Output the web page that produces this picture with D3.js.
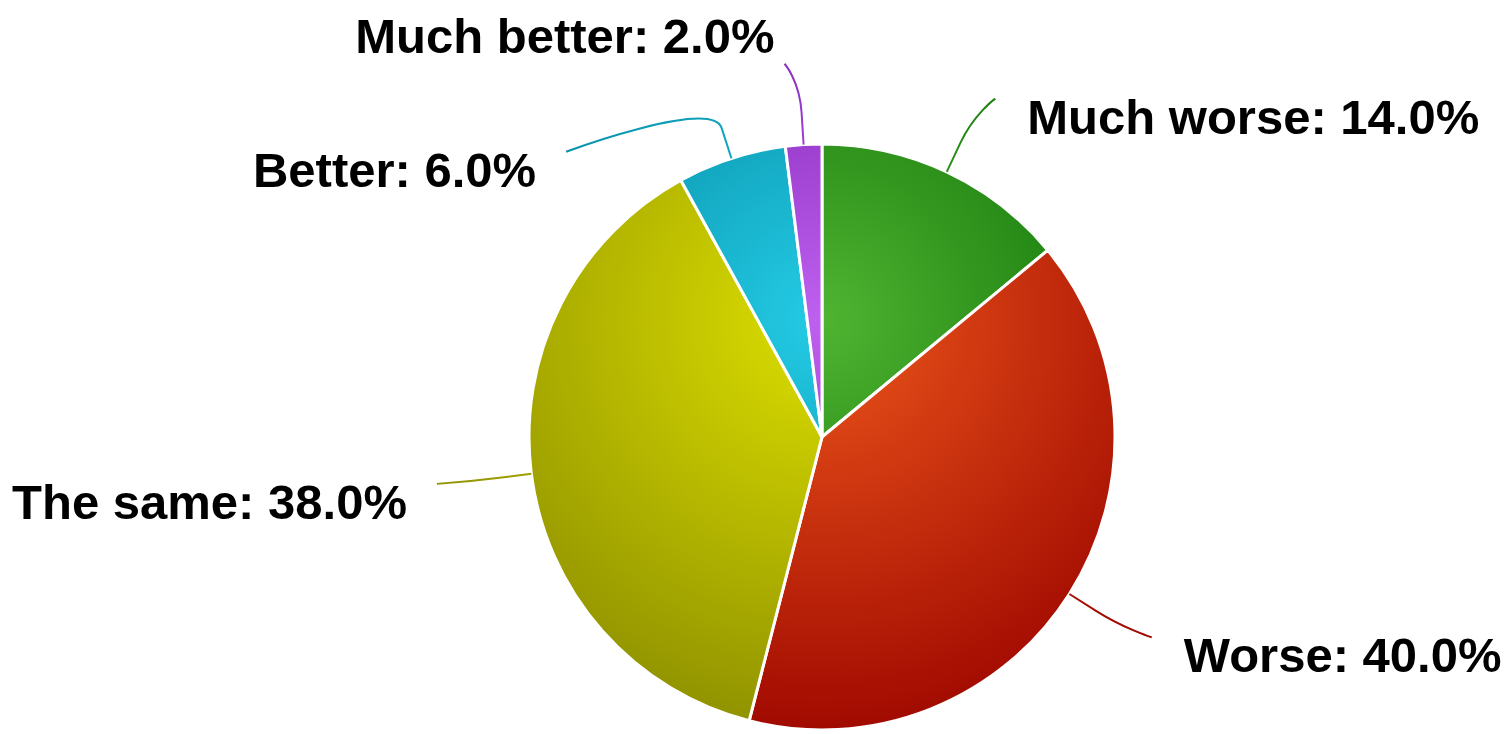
<!DOCTYPE html>
<html>
<head>
<meta charset="utf-8">
<script src="https://cdn.jsdelivr.net/npm/d3@7"></script>
<style>
  body { margin: 0; background: #fff; }
  .slice-label { font-family: "Liberation Sans", Arial, sans-serif; font-weight: bold; font-size: 49px; fill: #000; }
</style>
</head>
<body>
<div id="chart"></div>
<script>
// chart data
var categories = ["Much worse", "Worse", "The same", "Better", "Much better"];
var shares = [14.0, 40.0, 38.0, 6.0, 2.0];
var sliceColors = ["#50B432", "#ED561B", "#DDDF00", "#24CBE5", "#BE60F0"];

// svg size
var svgWidth = 1512;
var svgHeight = 734;

// pie geometry
var cx = 822;
var cy = 437;
var radius = 293;
var labelDistance = 81;     // how far out the labels sit
var connectorOffset = 32;   // straight part of the connector next to the pie
var minLabelGap = 88;       // vertical room one label needs

// hand nudge for the label that was moved above the chart
var labelNudge = { "Much better": [20, -46] };

var svg = d3.select("#chart")
    .append("svg")
    .attr("width", svgWidth)
    .attr("height", svgHeight);

// darker version of a colour, like brighten(-0.3)
function darker(hex) {
    var c = d3.rgb(hex);
    return d3.rgb(Math.max(c.r - 76, 0), Math.max(c.g - 76, 0), Math.max(c.b - 76, 0)).toString();
}

// radial gradient per slice, shared over the whole pie (coords relative to pie centre)
var defs = svg.append("defs");
sliceColors.forEach(function (col, i) {
    var grad = defs.append("radialGradient")
        .attr("id", "grad" + i)
        .attr("gradientUnits", "userSpaceOnUse")
        .attr("cx", 0)
        .attr("cy", -radius + 0.3 * 2 * radius)
        .attr("r", 0.7 * 2 * radius);
    grad.append("stop").attr("offset", 0).attr("stop-color", col);
    grad.append("stop").attr("offset", 1).attr("stop-color", darker(col));
});

var pie = d3.pie().sort(null).value(d => d);
var arcs = pie(shares);

var arc = d3.arc().innerRadius(0).outerRadius(radius);

// everything is drawn relative to the pie centre
var chartGroup = svg.append("g")
    .attr("transform", `translate(${cx}, ${cy})`);

chartGroup.selectAll("path.slice")
    .data(arcs)
    .enter()
    .append("path")
    .attr("class", "slice")
    .attr("d", arc)
    .attr("fill", (d, i) => `url(#grad${i})`)
    .attr("stroke", "#fff")
    .attr("stroke-width", 3)
    .attr("stroke-linejoin", "round");

// label layout
var R = radius + labelDistance;
var labels = arcs.map(function (d, i) {
    var a = (d.startAngle + d.endAngle) / 2;
    return {
        i: i,
        name: categories[i],
        value: shares[i],
        angle: a,
        left: Math.sin(a) < 0,
        y: -R * Math.cos(a)
    };
});

// push labels apart on each side
[true, false].forEach(function (side) {
    var group = labels.filter(l => l.left === side).sort((a, b) => a.y - b.y);
    for (var k = 1; k < group.length; k++) {
        if (group[k].y < group[k - 1].y + minLabelGap) {
            group[k].y = group[k - 1].y + minLabelGap;
        }
    }
});

labels.forEach(function (l) {
    var dx = Math.sqrt(Math.max(R * R - l.y * l.y, 0)) + 14;
    l.x = l.left ? -dx : dx;
    var s = Math.sin(l.angle), c = -Math.cos(l.angle);
    l.edge = [radius * s, radius * c];
    l.brk = [(radius + connectorOffset) * s, (radius + connectorOffset) * c];
});

// connectors
chartGroup.append("g").selectAll("path")
    .data(labels)
    .enter()
    .append("path")
    .attr("d", function (l) {
        var c2x = 2 * l.brk[0] - l.edge[0];
        var c2y = 2 * l.brk[1] - l.edge[1];
        return `M${l.x},${l.y} C${l.x},${l.y} ${c2x},${c2y} ${l.brk[0]},${l.brk[1]} L${l.edge[0]},${l.edge[1]}`;
    })
    .attr("fill", "none")
    .attr("stroke", l => `url(#grad${l.i})`)
    .attr("stroke-width", 2);

// label texts
chartGroup.append("g").selectAll("text")
    .data(labels)
    .enter()
    .append("text")
    .attr("class", "slice-label")
    .attr("x", function (l) {
        var n = labelNudge[l.name] ? labelNudge[l.name][0] : 0;
        return (l.left ? l.x - 30 : l.x + 32) + n;
    })
    .attr("y", function (l) {
        var n = labelNudge[l.name] ? labelNudge[l.name][1] : 0;
        return l.y + 35 + n;
    })
    .attr("text-anchor", l => l.left ? "end" : "start")
    .text(l => `${l.name}: ${l.value.toFixed(1)}%`);
</script>
</body>
</html>
